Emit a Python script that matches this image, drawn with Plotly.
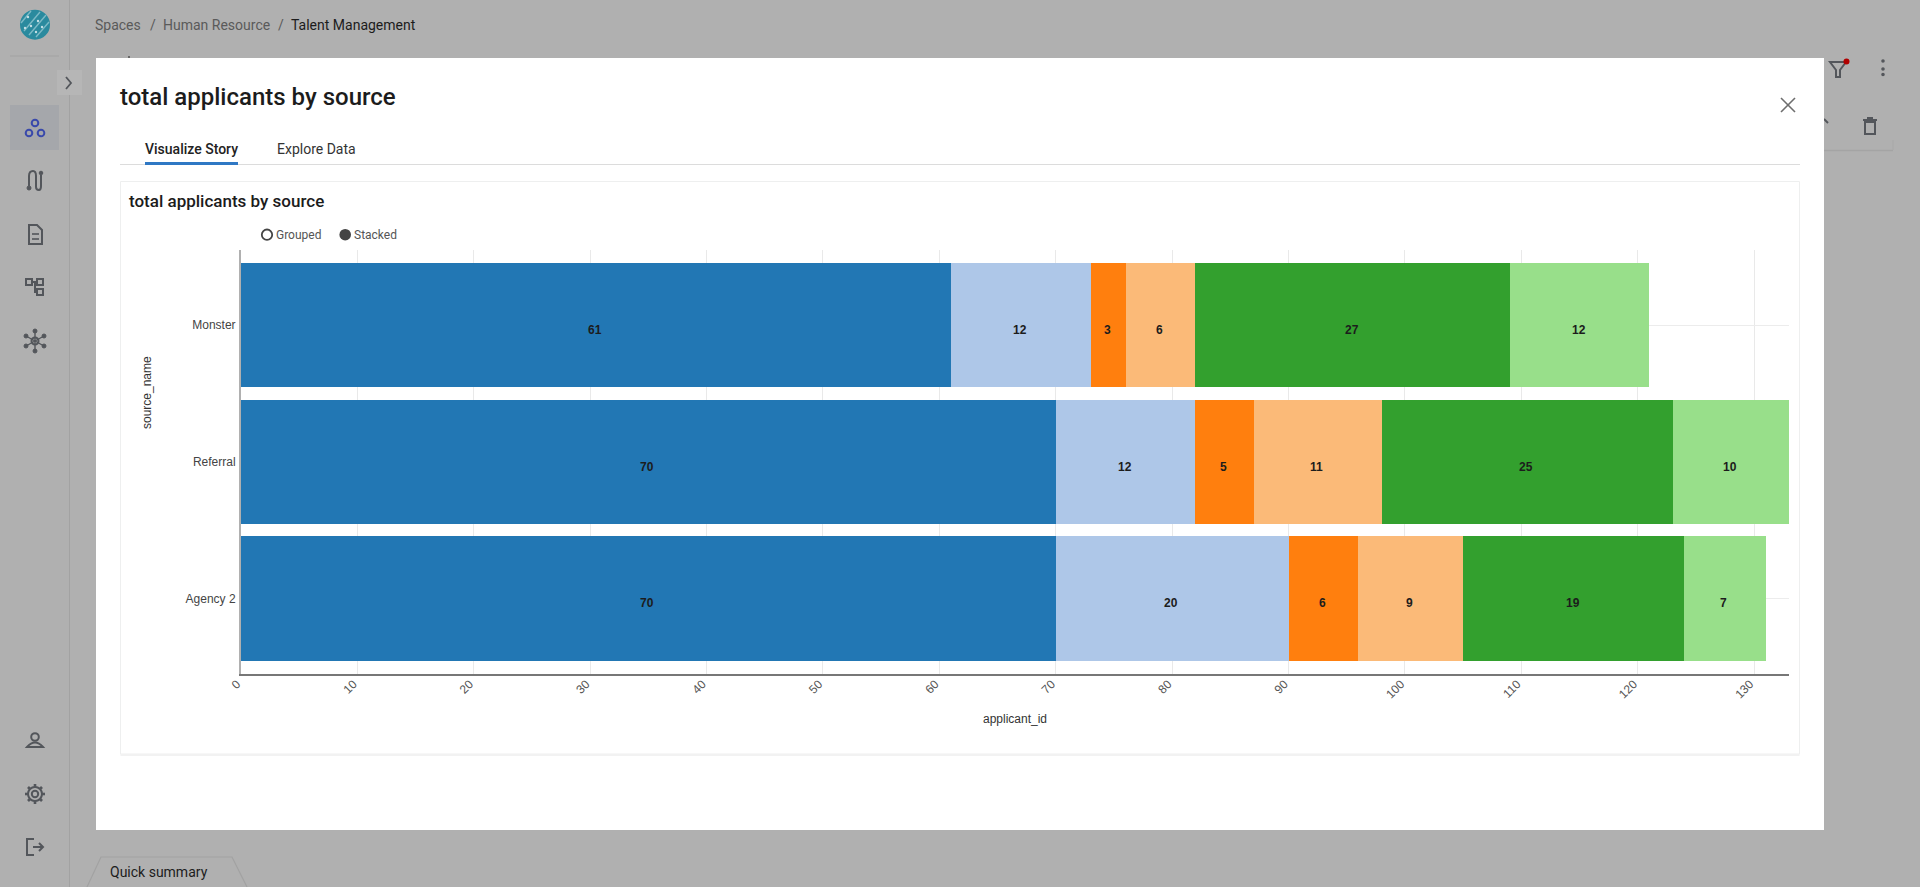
import plotly.graph_objects as go

# ---------- data ----------
sources = ["Agency 2", "Referral", "Monster"]
segment_a = [70, 70, 61]
segment_b = [20, 12, 12]
segment_c = [6, 5, 3]
segment_d = [9, 11, 6]
segment_e = [19, 25, 27]
segment_f = [7, 10, 12]
segment_names = ["segment 1", "segment 2", "segment 3", "segment 4", "segment 5", "segment 6"]
segment_colors = ["#2277b4", "#aec7e8", "#ff7f0e", "#fbba78", "#33a02e", "#98df8a"]
x_ticks = [0, 10, 20, 30, 40, 50, 60, 70, 80, 90, 100, 110, 120, 130]

UI = "Roboto"
CHART = "Liberation Sans"
ICON = "#53565b"

fig = go.Figure()
all_segments = [segment_a, segment_b, segment_c, segment_d, segment_e, segment_f]

for name, color, vals in zip(segment_names, segment_colors, all_segments):
    fig.add_trace(go.Bar(
        y=sources, x=vals, name=name, orientation="h",
        marker=dict(color=color, line=dict(width=0)),
        cliponaxis=False, xaxis="x2", yaxis="y2", showlegend=False,
    ))

shapes = []
def rect(x0, y0, x1, y1, fill, line=None, lw=1):
    shapes.append(dict(type="rect", x0=x0, y0=y0, x1=x1, y1=y1, fillcolor=fill,
                       line=dict(color=line or "rgba(0,0,0,0)", width=lw if line else 0),
                       xref="x", yref="y", layer="below"))
def seg(x0, y0, x1, y1, color=ICON, lw=2):
    shapes.append(dict(type="line", x0=x0, y0=y0, x1=x1, y1=y1, line=dict(color=color, width=lw),
                       xref="x", yref="y", layer="below"))
def circ(cx, cy, r, fill="rgba(0,0,0,0)", line=ICON, lw=2):
    shapes.append(dict(type="circle", x0=cx-r, y0=cy-r, x1=cx+r, y1=cy+r, fillcolor=fill,
                       line=dict(color=line, width=lw), xref="x", yref="y", layer="below"))
def path(d, fill="rgba(0,0,0,0)", line=ICON, lw=2):
    shapes.append(dict(type="path", path=d, fillcolor=fill, line=dict(color=line, width=lw),
                       xref="x", yref="y", layer="below"))

# sidebar
seg(69.5, 0, 69.5, 887, "#a2a2a2", 1)
seg(10, 56, 59, 56, "#a2a2a2", 1)
circ(35, 24.7, 15, "#2a8a9e", "#2a8a9e", 0)
for d in ["M24,31 L40,12", "M29,35 L46,15", "M36,37 L49,22", "M21,23 L31,11"]:
    path(d, line="#7dbac6", lw=1.4)
for a, b in [(28, 17), (38, 21), (31, 26), (42, 27), (25, 28), (36, 32)]:
    circ(a, b, 1.2, "#c4dfe4", "#c4dfe4", 0)
rect(57, 70, 82, 95, "#b6b6b6")
path("M66,77 L71,83 L66,89", line=ICON, lw=1.8)
rect(10, 105, 59, 150, "#a5a7ab")
circ(35, 123, 3.3, line="#3949ab"); circ(29, 133, 3.3, line="#3949ab"); circ(41, 133, 3.3, line="#3949ab")
path("M29,186 L29,176 Q29,171 33,171 Q36,171 36,176 L36,187 Q36,190 39,190 Q41,190 41,186 L41,175")
circ(41, 173, 1.8, ICON, ICON, 1); circ(29, 188, 2, ICON, ICON, 1)
path("M29,225 L37,225 L42,230 L42,244 L29,244 Z"); seg(32, 234, 39, 234, lw=1.6); seg(32, 239, 39, 239, lw=1.6)
rect(26, 279, 32, 285, "rgba(0,0,0,0)", ICON, 2); rect(37, 279, 43, 285, "rgba(0,0,0,0)", ICON, 2)
rect(37, 289, 43, 295, "rgba(0,0,0,0)", ICON, 2); path("M32,282 L37,282 M35,282 L35,292 L37,292")
circ(35, 341, 3.5)
for a, b in [(35, 331), (35, 351), (26, 336), (44, 336), (26, 346), (44, 346)]:
    circ(a, b, 2, ICON, ICON, 1); seg(35, 341, a, b, lw=1.4)
circ(35, 737, 3.8); path("M27,747 Q35,738 43,747 Z")
circ(35, 794, 3.2)
circ(35, 794, 7)
for x0, y0, x1, y1 in [(35,784,35,787),(35,801,35,804),(25,794,28,794),(42,794,45,794),
                       (28,787,30,789),(40,799,42,801),(28,801,30,799),(40,789,42,787)]:
    seg(x0, y0, x1, y1, lw=2.6)
path("M34,839 L27,839 L27,855 L34,855"); path("M33,847 L43,847 M39,843 L43,847 L39,851")

# toolbar behind the dialog
seg(1824, 150.5, 1893, 150.5, "#a4a4a4", 1.5); seg(1893, 140, 1893, 150, "#a8a8a8", 1)
path("M1830,62 L1846,62 L1840,70 L1840,77 L1836,77 L1836,70 Z", lw=2)
circ(1846.5, 61.5, 3, "#b00000", "#b00000", 0)
for y in [61, 69, 74.5]:
    circ(1883, y, 1.8, ICON, ICON, 0)
path("M1865,122 L1865,134 L1875,134 L1875,122 Z"); seg(1863, 120, 1877, 120); seg(1867, 118, 1873, 118)
path("M1824,119 L1828,123", lw=2)
seg(129, 56, 129, 58, "#222", 1)

# quick summary tab
path("M87,887 L101,857 L232,857 L247,887", fill="#b0b0b0", line="#a2a2a2", lw=1.2)

# dialog and card
rect(96, 58, 1824, 830, "#ffffff")
seg(120, 164.5, 1800, 164.5, "#dcdcdc", 1)
rect(145, 162, 238, 165, "#2f78c4")
rect(120.5, 181.5, 1799.5, 754, "#ffffff", "#eeefef", 1)
seg(120.5, 755, 1799.5, 755, "#f2f2f2", 2)
seg(1781, 98, 1795, 112, "#6e6e6e", 1.6); seg(1795, 98, 1781, 112, "#6e6e6e", 1.6)

# legend-like switch
circ(267, 234.7, 5.2, "#ffffff", "#444444", 1.8)
circ(345.2, 234.7, 5.8, "#444444", "#444444", 0)

anns = []
def label(x, y, text, size, color, weight=400, family=UI, anchor="left", angle=0):
    anns.append(dict(x=x, y=y, xref="x", yref="y", text=text, showarrow=False, xanchor=anchor, yanchor="middle",
                     textangle=angle, align="left",
                     font=dict(family=family, size=size, color=color, weight=weight)))

label(93, 25, "Spaces", 14, "#5a5a5a")
label(147.5, 25, "/", 14, "#5a5a5a")
label(160.5, 25, "Human Resource", 14, "#5a5a5a")
label(276, 25, "/", 14, "#5a5a5a")
label(289, 25, "Talent Management", 14, "#1c1c1c")
label(118, 97, "total applicants by source", 24, "#1c1c1c", 500)
label(143, 149, "Visualize Story", 14, "#222222", 500)
label(275, 149, "Explore Data", 14, "#333333")
label(127, 200.5, "total applicants by source", 17, "#1c1c1c", 500)
label(274, 235, "Grouped", 12, "#555555")
label(352, 235, "Stacked", 12, "#555555")
label(107.5, 871.5, "Quick summary", 14, "#1c1c1c")
label(147, 393, "source_name", 12, "#333333", family=CHART, anchor="center", angle=-90)

# value labels sit slightly below the middle of each bar
for i, src in enumerate(sources):
    start = 0
    for vals in all_segments:
        anns.append(dict(x=start + vals[i] / 2, y=src, xref="x2", yref="y2", text=str(vals[i]),
                         showarrow=False, yshift=-5, xshift=-1,
                         font=dict(family=CHART, size=12, color="#1c1c1c", weight=700)))
        start += vals[i]

fig.update_layout(
    width=1920, height=887, margin=dict(l=0, r=0, t=0, b=0, pad=0, autoexpand=False),
    paper_bgcolor="#b0b0b0", plot_bgcolor="rgba(0,0,0,0)",
    barmode="stack", bargap=0.09, showlegend=False, hovermode=False,
    shapes=shapes, annotations=anns,
    xaxis=dict(domain=[0, 1], range=[0, 1920], visible=False, fixedrange=True, automargin=False),
    yaxis=dict(domain=[0, 1], range=[887, 0], visible=False, fixedrange=True, automargin=False),
    xaxis2=dict(domain=[241/1920, 1789/1920], range=[0, 133], anchor="y2", tickvals=x_ticks, automargin=False,
                tickangle=-45, tickfont=dict(family=CHART, size=12, color="#555555"),
                ticklabelstandoff=-3, ticklabelshift=-4,
                showgrid=True, gridcolor="#e9e9e9", gridwidth=1, zeroline=False,
                showline=True, linecolor="#777777", linewidth=2, ticks="",
                title=dict(text="applicant_id", font=dict(family=CHART, size=12, color="#333333"), standoff=14),
                fixedrange=True),
    yaxis2=dict(domain=[1-673.5/887, 1-250/887], range=[-0.55, 2.55], anchor="x2", type="category",
                categoryorder="array", categoryarray=sources, automargin=False,
                tickfont=dict(family=CHART, size=12, color="#444444"), ticklabelstandoff=1,
                showgrid=True, gridcolor="#ececec", gridwidth=1, zeroline=False,
                showline=True, linecolor="#b0b0b0", linewidth=2, ticks="", fixedrange=True),
)

fig.write_html("out.html", config={"displayModeBar": False},
               post_script="document.body.style.margin='0';document.body.style.overflow='hidden';")
